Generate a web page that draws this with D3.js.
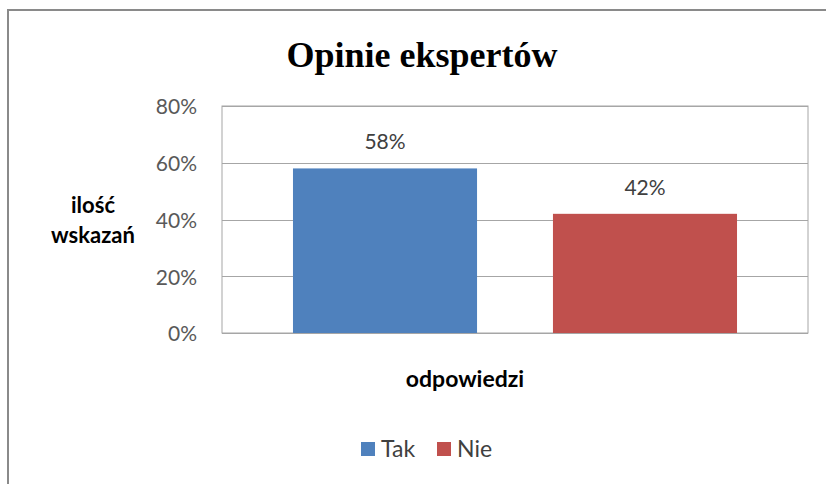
<!DOCTYPE html>
<html>
<head>
<meta charset="utf-8">
<script src="https://cdn.jsdelivr.net/npm/d3@7"></script>
<style>
  html, body { margin: 0; padding: 0; background: #fff; }
  svg { display: block; }
</style>
</head>
<body>
<svg id="chart" width="826" height="484"></svg>
<script>
// Survey answers and their shares
const categories = ["Tak", "Nie"];
const values = [0.58, 0.42];
const colors = ["#4F81BD", "#C0504D"];
const yTicks = [0, 0.2, 0.4, 0.6, 0.8];
const title = "Opinie ekspertów";
const yTitle = ["ilość", "wskazań"];
const xTitle = "odpowiedzi";

const svg = d3.select("#chart");
const W = 826, H = 484;
const margin = { top: 106, right: 18, bottom: 151, left: 222 };
const plotW = W - margin.left - margin.right;
const plotH = H - margin.top - margin.bottom;
const font = "Lato, 'Open Sans', sans-serif";

// Frame around the whole chart
svg.append("rect")
  .attr("x", 8).attr("y", 10)
  .attr("width", W + 10).attr("height", H + 10)
  .attr("fill", "#fff")
  .attr("stroke", "#8a8a8a").attr("stroke-width", 2);

svg.append("text")
  .attr("x", 422).attr("y", 67)
  .attr("text-anchor", "middle")
  .attr("font-family", "'Liberation Serif', 'Times New Roman', serif")
  .attr("font-weight", "bold")
  .attr("font-size", 36)
  .attr("fill", "#000")
  .text(title);

const g = svg.append("g").attr("transform", `translate(${margin.left},${margin.top})`);

const x = d3.scaleBand().domain(categories).range([0, plotW]).paddingInner(0.292).paddingOuter(0.273);
const y = d3.scaleLinear().domain([0, 0.8]).range([plotH, 0]);

// Plot area outline
g.append("rect")
  .attr("x", 0).attr("y", 0).attr("width", plotW).attr("height", plotH)
  .attr("fill", "none").attr("stroke", "#a6a6a6").attr("stroke-width", 1);

// Horizontal gridlines
g.selectAll("line.grid").data(yTicks).join("line")
  .attr("class", "grid")
  .attr("x1", 0).attr("x2", plotW)
  .attr("y1", d => Math.round(y(d)) + 0.5).attr("y2", d => Math.round(y(d)) + 0.5)
  .attr("stroke", "#a6a6a6").attr("stroke-width", 1.2);

// Y axis labels
const yAxis = d3.axisLeft(y).tickValues(yTicks).tickFormat(d3.format(".0%")).tickSize(0).tickPadding(25);
const ya = g.append("g").call(yAxis);
ya.select(".domain").remove();
ya.selectAll("text")
  .attr("font-family", font).attr("font-size", 21).attr("fill", "#595959")
  .attr("dy", "0.38em");

// Bars
g.selectAll("rect.bar").data(categories).join("rect")
  .attr("class", "bar")
  .attr("x", d => x(d))
  .attr("y", (d, i) => y(values[i]))
  .attr("width", x.bandwidth())
  .attr("height", (d, i) => plotH - y(values[i]))
  .attr("fill", (d, i) => colors[i]);

// Value labels
g.selectAll("text.val").data(categories).join("text")
  .attr("class", "val")
  .attr("x", d => x(d) + x.bandwidth() / 2)
  .attr("y", (d, i) => y(values[i]) - 19)
  .attr("text-anchor", "middle")
  .attr("font-family", font).attr("font-size", 21).attr("fill", "#404040")
  .text((d, i) => d3.format(".0%")(values[i]));

// Axis titles
svg.append("text")
  .attr("text-anchor", "middle")
  .attr("font-family", font).attr("font-weight", "bold").attr("font-size", 22).attr("fill", "#000")
  .selectAll("tspan").data(yTitle).join("tspan")
  .attr("x", 93).attr("y", (d, i) => i === 0 ? 213 : 243)
  .text(d => d);

svg.append("text")
  .attr("x", 465).attr("y", 387)
  .attr("text-anchor", "middle")
  .attr("font-family", font).attr("font-weight", "bold").attr("font-size", 23).attr("fill", "#000")
  .text(xTitle);

// Legend
const legendX = [361, 437];
const lg = svg.append("g");
categories.forEach((c, i) => {
  lg.append("rect")
    .attr("x", legendX[i]).attr("y", 442).attr("width", 14).attr("height", 14)
    .attr("fill", colors[i]);
  lg.append("text")
    .attr("x", legendX[i] + 20).attr("y", 457)
    .attr("font-family", font).attr("font-size", 23).attr("fill", "#404040")
    .text(c);
});
</script>
</body>
</html>
